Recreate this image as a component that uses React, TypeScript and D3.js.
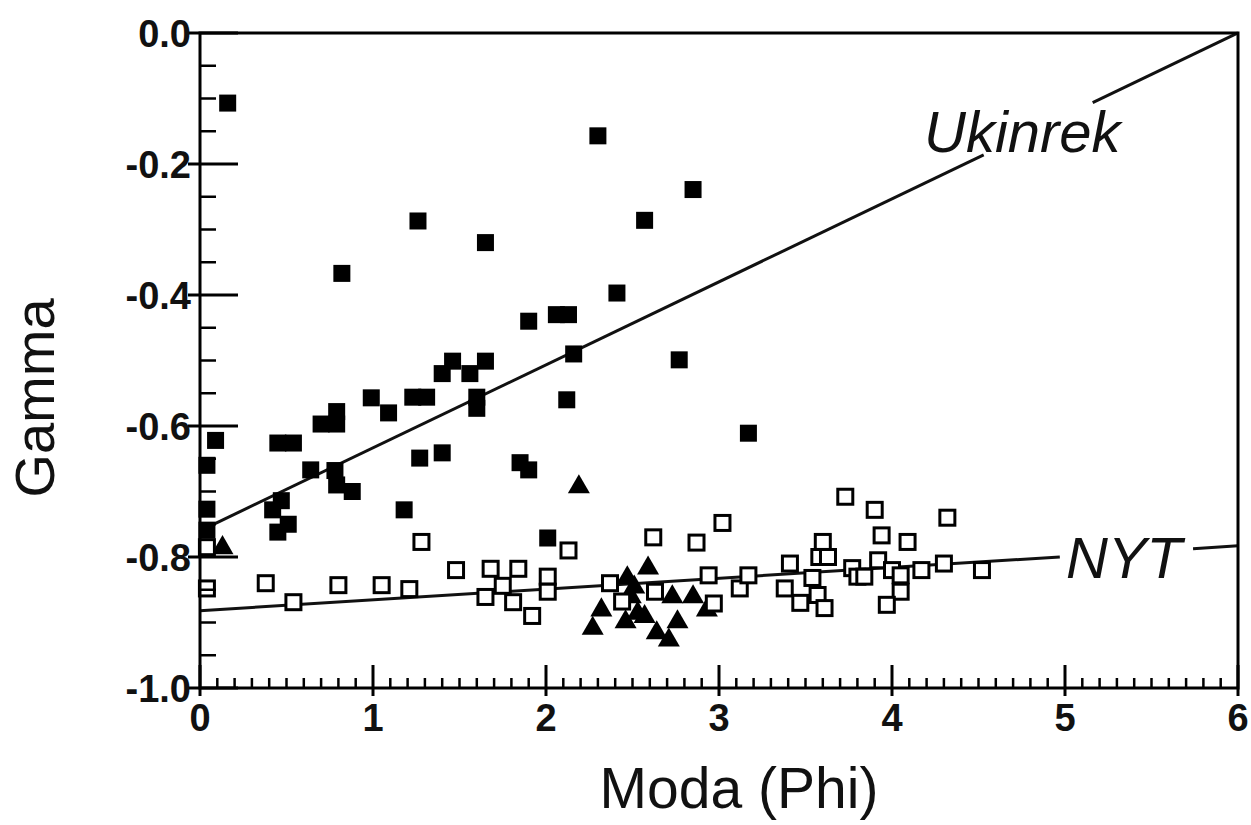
import React from "react";
import * as d3 from "d3";

// Ukinrek (filled squares)
const ukinrekX = [0.16, 2.3, 2.85, 1.26, 2.57, 1.65, 0.82, 2.41, 1.9, 2.06, 2.13, 2.16, 2.77, 1.46, 1.65, 1.4, 1.56, 0.99, 1.09, 1.23, 1.31, 1.6, 1.6, 2.12, 0.7, 0.79, 0.79, 3.17, 0.45, 0.54, 0.09, 0.04, 0.64, 0.78, 0.79, 0.88, 1.27, 1.4, 1.85, 1.9, 0.04, 1.18, 0.42, 0.47, 0.45, 0.51, 0.04, 2.01];
const ukinrekY = [-0.107, -0.157, -0.239, -0.287, -0.286, -0.32, -0.367, -0.397, -0.44, -0.43, -0.43, -0.49, -0.499, -0.501, -0.501, -0.52, -0.52, -0.557, -0.58, -0.556, -0.556, -0.556, -0.573, -0.56, -0.597, -0.597, -0.578, -0.611, -0.626, -0.626, -0.622, -0.66, -0.667, -0.668, -0.69, -0.7, -0.649, -0.641, -0.656, -0.667, -0.727, -0.728, -0.728, -0.714, -0.762, -0.75, -0.759, -0.771];

// NYT (open squares)
const nytX = [0.04, 0.04, 0.38, 0.54, 0.8, 1.05, 1.21, 1.28, 1.48, 1.65, 1.68, 1.75, 1.81, 1.84, 1.92, 2.01, 2.01, 2.13, 2.62, 2.87, 3.02, 2.37, 2.44, 2.63, 2.94, 2.97, 3.12, 3.17, 3.73, 3.9, 4.32, 3.94, 4.09, 3.6, 3.58, 3.63, 3.41, 3.38, 3.47, 3.54, 3.57, 3.61, 3.77, 3.8, 3.84, 3.92, 4.0, 4.05, 4.05, 3.97, 4.17, 4.3, 4.52];
const nytY = [-0.785, -0.848, -0.84, -0.869, -0.843, -0.843, -0.849, -0.777, -0.82, -0.861, -0.818, -0.844, -0.869, -0.818, -0.89, -0.83, -0.853, -0.79, -0.77, -0.778, -0.748, -0.84, -0.868, -0.853, -0.828, -0.871, -0.848, -0.828, -0.708, -0.728, -0.74, -0.767, -0.777, -0.777, -0.8, -0.8, -0.81, -0.848, -0.87, -0.832, -0.858, -0.878, -0.817, -0.83, -0.83, -0.805, -0.82, -0.828, -0.853, -0.873, -0.82, -0.81, -0.82];

// third group (filled triangles)
const triX = [0.13, 2.19, 2.59, 2.47, 2.51, 2.32, 2.27, 2.49, 2.46, 2.53, 2.57, 2.64, 2.71, 2.76, 2.73, 2.85, 2.93];
const triY = [-0.786, -0.693, -0.817, -0.832, -0.846, -0.881, -0.909, -0.861, -0.899, -0.886, -0.891, -0.916, -0.927, -0.899, -0.861, -0.861, -0.881];

// fitted lines: [intercept, slope]; segments (x ranges) leave room for labels
const ukinrekFit = [-0.76, 0.1267];
const ukinrekSegs = [[0, 4.53], [5.16, 6]];
const nytFit = [-0.882, 0.0165];
const nytSegs = [[0, 4.97], [5.74, 6]];

const xTicks = [0, 1, 2, 3, 4, 5, 6];
const yTicks = [0, -0.2, -0.4, -0.6, -0.8, -1.0];

const App: React.FC = () => {
  const x = d3.scaleLinear().domain([0, 6]).range([200, 1238]);
  const y = d3.scaleLinear().domain([-1, 0]).range([688, 33]);

  const xMinor = d3.range(0, 60).map((i) => i / 10).filter((v) => Math.abs(v - Math.round(v)) > 1e-6);
  const yMinor = d3.range(-20, 0).map((i) => i / 20).filter((v) => Math.abs(v * 5 - Math.round(v * 5)) > 1e-6);

  const fitPath = (fit: number[], seg: number[]) => {
    const l = d3
      .line<number>()
      .x((d) => x(d))
      .y((d) => y(fit[0] + fit[1] * d));
    return l(seg) || "";
  };

  const tri = d3.symbol(d3.symbolTriangle, 210)() || "";
  const sq = 17;
  const osq = 15;

  const font = "'Liberation Sans', Arial, sans-serif";

  return (
    <svg width={1251} height={825} style={{ position: "absolute", left: 0, top: 0, background: "#fff" }}>
      <rect x={0} y={0} width={1251} height={825} fill="#fff" />

      {/* regression lines */}
      {ukinrekSegs.map((s, i) => (
        <path key={"u" + i} d={fitPath(ukinrekFit, s)} stroke="#111" strokeWidth={3} fill="none" />
      ))}
      {nytSegs.map((s, i) => (
        <path key={"n" + i} d={fitPath(nytFit, s)} stroke="#111" strokeWidth={3} fill="none" />
      ))}

      {/* triangles */}
      {triX.map((v, i) => (
        <path key={"t" + i} d={tri} transform={`translate(${x(v)},${y(triY[i])})`} fill="#000" />
      ))}

      {/* filled squares */}
      {ukinrekX.map((v, i) => (
        <rect key={"f" + i} x={x(v) - sq / 2} y={y(ukinrekY[i]) - sq / 2} width={sq} height={sq} fill="#000" />
      ))}

      {/* open squares */}
      {nytX.map((v, i) => (
        <rect
          key={"o" + i}
          x={x(v) - osq / 2}
          y={y(nytY[i]) - osq / 2}
          width={osq}
          height={osq}
          fill="#fff"
          stroke="#000"
          strokeWidth={3}
        />
      ))}

      {/* frame */}
      <rect x={x(0)} y={y(0)} width={x(6) - x(0)} height={y(-1) - y(0)} fill="none" stroke="#000" strokeWidth={3} />

      {/* y ticks */}
      {yTicks.map((t) => (
        <line key={"ym" + t} x1={x(0) - 12} x2={x(0) + 38} y1={y(t)} y2={y(t)} stroke="#000" strokeWidth={3} />
      ))}
      {yMinor.map((t) => (
        <line key={"yn" + t} x1={x(0)} x2={x(0) + 16} y1={y(t)} y2={y(t)} stroke="#000" strokeWidth={2.5} />
      ))}
      {/* x ticks */}
      {xTicks.map((t) => (
        <line key={"xm" + t} x1={x(t)} x2={x(t)} y1={y(-1) + 8} y2={y(-1) - 23} stroke="#000" strokeWidth={3} />
      ))}
      {xMinor.map((t) => (
        <line key={"xn" + t} x1={x(t)} x2={x(t)} y1={y(-1)} y2={y(-1) - 10} stroke="#000" strokeWidth={2.5} />
      ))}

      {/* tick labels */}
      {yTicks.map((t) => (
        <text
          key={"yl" + t}
          x={x(0) - 9}
          y={y(t)}
          dy="0.36em"
          textAnchor="end"
          fontFamily={font}
          fontWeight="bold"
          fontSize={38}
          fill="#111"
        >
          {d3.format(".1f")(t).replace("−", "-")}
        </text>
      ))}
      {xTicks.map((t) => (
        <text
          key={"xl" + t}
          x={x(t)}
          y={731}
          textAnchor="middle"
          fontFamily={font}
          fontWeight="bold"
          fontSize={38}
          fill="#111"
        >
          {t}
        </text>
      ))}

      {/* axis titles */}
      <text transform="translate(54,398) rotate(-90)" textAnchor="middle" fontFamily={font} fontSize={56} fill="#111">
        Gamma
      </text>
      <text x={739} y={808} textAnchor="middle" fontFamily={font} fontSize={57} fill="#111">
        Moda (Phi)
      </text>

      {/* series labels */}
      <text x={924} y={152} fontFamily={font} fontStyle="italic" fontSize={58} fill="#111">
        Ukinrek
      </text>
      <text x={1066} y={578} fontFamily={font} fontStyle="italic" fontSize={58} fill="#111">
        NYT
      </text>
    </svg>
  );
};

export default App;
